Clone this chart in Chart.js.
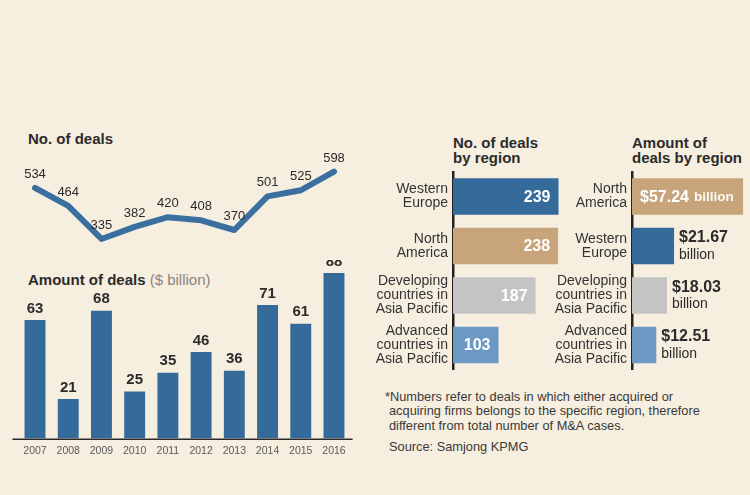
<!DOCTYPE html>
<html>
<head>
<meta charset="utf-8">
<script src="https://cdn.jsdelivr.net/npm/chart.js@4.4.0/dist/chart.umd.min.js"></script>
<style>
  body { margin: 0; background: #f6eedf; font-family: 'Liberation Sans', Arial, sans-serif; color: #2b2b2b; }
  #page { position: relative; width: 750px; height: 495px; overflow: hidden; background: #f6eedf; }
  .box { position: absolute; }
  .title { position: absolute; font-weight: bold; font-size: 15px; line-height: 15px; color: #2b2b2b; white-space: nowrap; }
  .title span { font-weight: normal; color: #8a8580; }
  #note { position: absolute; left: 389px; top: 390px; font-size: 12.8px; line-height: 14.3px; color: #3a3a3a; text-indent: -4px; white-space: nowrap; }
  #source { position: absolute; left: 389px; top: 439px; font-size: 12.8px; line-height: 15px; color: #3a3a3a; }
</style>
</head>
<body>
<div id="page">
  <div class="title" style="left:28px; top:131px;">No. of deals</div>
  <div class="title" style="left:28px; top:272px;">Amount of deals <span>($ billion)</span></div>
  <div class="title" style="left:453px; top:135px;">No. of deals<br>by region</div>
  <div class="title" style="left:632px; top:135px;">Amount of<br>deals by region</div>
  <div id="note">*Numbers refer to deals in which either acquired or<br>acquiring firms belongs to the specific region, therefore<br>different from total number of M&amp;A cases.</div>
  <div id="source">Source: Samjong KPMG</div>

  <canvas id="lineChart" class="box" style="left:0; top:120px;" width="365" height="140"></canvas>
  <canvas id="barChart" class="box" style="left:0; top:260px;" width="365" height="205"></canvas>
  <canvas id="countChart" class="box" style="left:372px; top:165px;" width="198" height="210"></canvas>
  <canvas id="amountChart" class="box" style="left:550px; top:165px;" width="200" height="210"></canvas>
</div>
<script>
// data
const years = ['2007', '2008', '2009', '2010', '2011', '2012', '2013', '2014', '2015', '2016'];
const dealCounts = [534, 464, 335, 382, 420, 408, 370, 501, 525, 598];
const dealAmounts = [63, 21, 68, 25, 35, 46, 36, 71, 61, 88];

const countRegions = [['Western', 'Europe'], ['North', 'America'], ['Developing', 'countries in', 'Asia Pacific'], ['Advanced', 'countries in', 'Asia Pacific']];
const regionCounts = [239, 238, 187, 103];

const amountRegions = [['North', 'America'], ['Western', 'Europe'], ['Developing', 'countries in', 'Asia Pacific'], ['Advanced', 'countries in', 'Asia Pacific']];
const regionAmounts = [57.24, 21.67, 18.03, 12.51];

// colours
const BLUE = '#356b9b';
const regionColor = {
  'Western Europe': '#356b9b',
  'North America': '#c8a47a',
  'Developing countries in Asia Pacific': '#c5c4c4',
  'Advanced countries in Asia Pacific': '#6c99c3'
};
const colorsFor = (regions) => regions.map(r => regionColor[r.join(' ')]);

const FONT = "'Liberation Sans', Arial, sans-serif";
Chart.defaults.font.family = FONT;
Chart.defaults.animation = false;
Chart.defaults.plugins.legend.display = false;
Chart.defaults.plugins.tooltip.enabled = false;
Chart.defaults.responsive = false;
Chart.defaults.devicePixelRatio = 1;

// labels above line points
const lineLabels = {
  id: 'lineLabels',
  afterDatasetsDraw(chart) {
    const ctx = chart.ctx;
    const meta = chart.getDatasetMeta(0);
    ctx.save();
    ctx.font = '13px ' + FONT;
    ctx.fillStyle = '#2b2b2b';
    ctx.textAlign = 'center';
    ctx.textBaseline = 'bottom';
    meta.data.forEach((pt, i) => {
      ctx.fillText(chart.data.datasets[0].data[i], pt.x, pt.y - 7);
    });
    ctx.restore();
  }
};

// labels above vertical bars + baseline
const barLabels = {
  id: 'barLabels',
  afterDatasetsDraw(chart) {
    const ctx = chart.ctx;
    const meta = chart.getDatasetMeta(0);
    const area = chart.chartArea;
    ctx.save();
    ctx.strokeStyle = '#2b2b2b';
    ctx.lineWidth = 1.5;
    ctx.beginPath();
    ctx.moveTo(area.left - 6, area.bottom + 0.75);
    ctx.lineTo(area.right + 2, area.bottom + 0.75);
    ctx.stroke();
    ctx.font = 'bold 15px ' + FONT;
    ctx.fillStyle = '#2b2b2b';
    ctx.textAlign = 'center';
    ctx.textBaseline = 'bottom';
    meta.data.forEach((bar, i) => {
      ctx.fillText(chart.data.datasets[0].data[i], bar.x, bar.y - 4);
    });
    ctx.restore();
  }
};

// white values inside horizontal bars (count chart)
const insideLabels = {
  id: 'insideLabels',
  afterDatasetsDraw(chart) {
    const ctx = chart.ctx;
    const meta = chart.getDatasetMeta(0);
    ctx.save();
    ctx.font = 'bold 16px ' + FONT;
    ctx.fillStyle = '#ffffff';
    ctx.textAlign = 'right';
    ctx.textBaseline = 'middle';
    meta.data.forEach((bar, i) => {
      ctx.fillText(chart.data.datasets[0].data[i], bar.x - 8, bar.y + 1);
    });
    ctx.restore();
  }
};

// amount labels: inside if they fit, otherwise outside on two lines
const amountLabels = {
  id: 'amountLabels',
  afterDatasetsDraw(chart) {
    const ctx = chart.ctx;
    const meta = chart.getDatasetMeta(0);
    ctx.save();
    ctx.textBaseline = 'middle';
    ctx.textAlign = 'left';
    meta.data.forEach((bar, i) => {
      const v = '$' + chart.data.datasets[0].data[i].toFixed(2);
      ctx.font = 'bold 16px ' + FONT;
      const w1 = ctx.measureText(v).width;
      ctx.font = '14px ' + FONT;
      const w2 = ctx.measureText(' billion').width;
      const barW = bar.x - bar.base;
      if (w1 + w2 + 16 < barW) {
        ctx.fillStyle = '#ffffff';
        ctx.font = 'bold 16px ' + FONT;
        ctx.fillText(v, bar.base + 8, bar.y + 1);
        ctx.font = 'bold 13.5px ' + FONT;
        ctx.fillStyle = 'rgba(255,255,255,0.92)';
        ctx.fillText('billion', bar.base + 8 + w1 + 5, bar.y + 1);
      } else {
        ctx.fillStyle = '#2b2b2b';
        ctx.font = 'bold 16px ' + FONT;
        ctx.fillText(v, bar.x + 5, bar.y - 8);
        ctx.font = '14px ' + FONT;
        ctx.fillText('billion', bar.x + 5, bar.y + 9);
      }
    });
    ctx.restore();
  }
};

// keep the region axis at a fixed width and stop the long labels from padding the chart area
const fixRegionAxis = (width) => (scale) => {
  scale.width = width;
  scale.paddingTop = 0;
  scale.paddingBottom = 0;
};

// No. of deals (line)
new Chart(document.getElementById('lineChart'), {
  type: 'line',
  data: {
    labels: years,
    datasets: [{
      data: dealCounts,
      borderColor: '#3a6fa0',
      borderWidth: 6,
      borderCapStyle: 'round',
      borderJoinStyle: 'round',
      pointRadius: 0,
      tension: 0,
      fill: false
    }]
  },
  options: {
    layout: { padding: { left: 18.4, right: 14.4, top: 40, bottom: 10 } },
    scales: {
      x: { display: false, offset: true },
      y: { display: false, min: 292, max: 643 }
    }
  },
  plugins: [lineLabels]
});

// Amount of deals (bars)
new Chart(document.getElementById('barChart'), {
  type: 'bar',
  data: {
    labels: years,
    datasets: [{
      data: dealAmounts,
      backgroundColor: BLUE,
      barPercentage: 0.63,
      categoryPercentage: 1
    }]
  },
  options: {
    layout: { padding: { left: 18.4, right: 14.4, top: 5, bottom: 2 } },
    scales: {
      x: {
        grid: { display: false, drawTicks: false },
        border: { display: false },
        ticks: { font: { size: 10.5 }, color: '#5a5a5a', padding: 6, autoSkip: false, maxRotation: 0 }
      },
      y: { display: false, min: 0, max: 92.3 }
    }
  },
  plugins: [barLabels]
});

const regionTicks = { font: { size: 14, lineHeight: 1.0 }, color: '#333', padding: 5 };

// No. of deals by region
new Chart(document.getElementById('countChart'), {
  type: 'bar',
  data: {
    labels: countRegions,
    datasets: [{
      data: regionCounts,
      backgroundColor: colorsFor(countRegions),
      barPercentage: 0.74,
      categoryPercentage: 1
    }]
  },
  options: {
    indexAxis: 'y',
    layout: { padding: { left: 0, right: 0, top: 6.75, bottom: 5.25 } },
    scales: {
      x: { display: false, min: 0, max: 265 },
      y: {
        grid: { display: false, drawTicks: false },
        border: { display: true, color: '#222', width: 2.5 },
        ticks: regionTicks,
        afterFit: fixRegionAxis(81)
      }
    }
  },
  plugins: [insideLabels]
});

// Amount of deals by region
new Chart(document.getElementById('amountChart'), {
  type: 'bar',
  data: {
    labels: amountRegions,
    datasets: [{
      data: regionAmounts,
      backgroundColor: colorsFor(amountRegions),
      barPercentage: 0.74,
      categoryPercentage: 1
    }]
  },
  options: {
    indexAxis: 'y',
    layout: { padding: { left: 0, right: 0, top: 6.75, bottom: 5.25 } },
    scales: {
      x: { display: false, min: 0, max: 60.8 },
      y: {
        grid: { display: false, drawTicks: false },
        border: { display: true, color: '#222', width: 2.5 },
        ticks: regionTicks,
        afterFit: fixRegionAxis(82)
      }
    }
  },
  plugins: [amountLabels]
});
</script>
</body>
</html>
